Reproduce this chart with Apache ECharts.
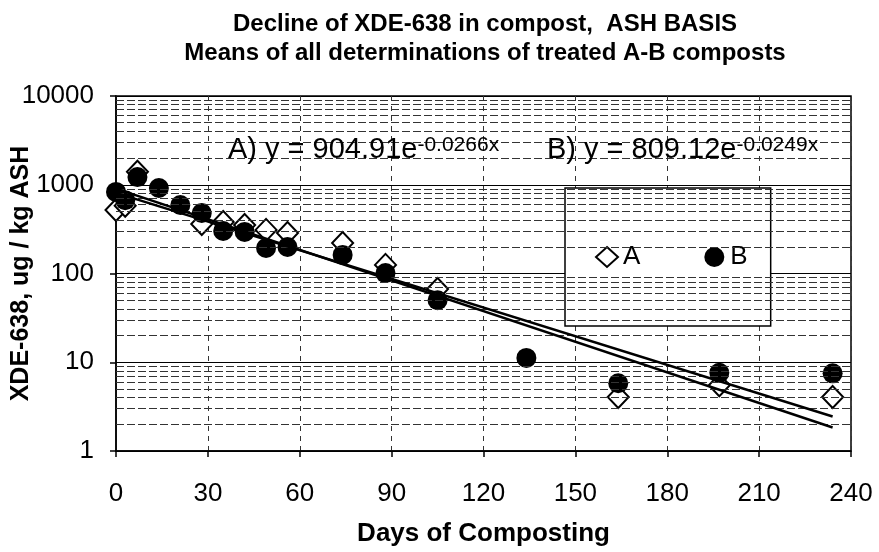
<!DOCTYPE html>
<html>
<head>
<meta charset="utf-8">
<script src="https://cdn.jsdelivr.net/npm/echarts@6/dist/echarts.min.js"></script>
<style>html,body{margin:0;padding:0;background:#fff}#c{width:879px;height:552px}</style>
</head>
<body>
<div id="c"></div>
<script>
// Data (null = not visible in the reference)
const days  = [0, 3, 7, 14, 21, 28, 35, 42, 49, 56, 74, 88, 105, 134, 164, 197, 234];
const seriesA = [520, 580, 1400, null, null, 361, 380, 352, 310, 286, 221, 125, 67, null, 4.06, 5.5, 4.06];
const seriesB = [830, 670, 1220, 918, 591, 480, 301, 294, 194, 199, 162, 101, 50, 11.2, 5.8, 7.6, 7.5];
const trendDays = [0, 234];
const trendA = [904.91, 1.84];
const trendB = [809.12, 2.45];
const xTicks = [0, 30, 60, 90, 120, 150, 180, 210, 240];
const yTicks = [1, 10, 100, 1000, 10000];
const titleLines = ['Decline of XDE-638 in compost,  ASH BASIS', 'Means of all determinations of treated A-B composts'];
const eqA = ['A) y = 904.91e', '-0.0266x'];
const eqB = ['B) y = 809.12e', '-0.0249x'];

const FONT = 'Liberation Sans, Arial, sans-serif';
const pairs = (xs, ys) => xs.map((x, i) => [x, ys[i]]).filter(p => p[1] != null);

// minor grid positions (2..9 within each decade)
const minorVals = [];
for (let k = 0; k < 4; k++) for (let m = 2; m <= 9; m++) minorVals.push(m * Math.pow(10, k));

const eqRich = {
  m: {fontFamily: FONT, fontSize: 29, fill: '#000', verticalAlign: 'bottom'},
  s: {fontFamily: FONT, fontSize: 21, fill: '#000', verticalAlign: 'top'}
};

const chart = echarts.init(document.getElementById('c'), null, {renderer: 'canvas'});
chart.setOption({
  animation: false,
  backgroundColor: '#fff',
  textStyle: {fontFamily: FONT},
  title: {
    text: titleLines.join('\n'),
    left: 480, top: 5, textAlign: 'center',
    textStyle: {fontFamily: FONT, fontSize: 24, fontWeight: 'bold', color: '#000', lineHeight: 29}
  },
  grid: {left: 116, right: 28, top: 96, bottom: 101, show: true, borderColor: '#000', borderWidth: 1.5,
         backgroundColor: 'transparent', containLabel: false, outerBoundsMode: 'none'},
  legend: {
    data: [
      {name: 'A', icon: 'diamond', itemStyle: {color: '#fff', borderColor: '#000', borderWidth: 2}},
      {name: 'B', icon: 'circle', itemStyle: {color: '#000'}}
    ],
    left: 565, top: 188,
    orient: 'horizontal',
    padding: [56, 23, 56, 30],
    itemGap: 64, itemWidth: 22, itemHeight: 20,
    backgroundColor: '#fff', borderColor: '#000', borderWidth: 1.5,
    textStyle: {fontFamily: FONT, fontSize: 26, color: '#000'}
  },
  xAxis: {
    type: 'value', min: xTicks[0], max: xTicks[xTicks.length - 1], interval: 30,
    name: 'Days of Composting', nameLocation: 'middle', nameGap: 70, nameMoveOverlap: false,
    nameTextStyle: {fontFamily: FONT, fontSize: 26, fontWeight: 'bold', color: '#000'},
    axisLine: {lineStyle: {color: '#000', width: 1.5}},
    axisTick: {show: true, length: 6, lineStyle: {color: '#000', width: 1.5}},
    axisLabel: {fontFamily: FONT, fontSize: 26, color: '#000', margin: 30},
    splitLine: {show: true, lineStyle: {color: '#333', width: 1, type: [5, 5]}}
  },
  yAxis: {
    type: 'log', logBase: 10, min: yTicks[0], max: yTicks[yTicks.length - 1],
    name: 'XDE-638, ug / kg ASH', nameLocation: 'middle', nameGap: 82, nameRotate: 90, nameMoveOverlap: false,
    nameTextStyle: {fontFamily: FONT, fontSize: 25, fontWeight: 'bold', color: '#000'},
    axisLine: {show: true, lineStyle: {color: '#000', width: 1.5}},
    axisTick: {show: true, length: 6, lineStyle: {color: '#000', width: 1.5}},
    axisLabel: {fontFamily: FONT, fontSize: 26, color: '#000', margin: 22, formatter: v => String(v)},
    splitLine: {show: true, lineStyle: {color: '#000', width: 1.2}}
  },
  series: [
    {
      type: 'line', data: [], silent: true,
      markLine: {
        silent: true, symbol: 'none', label: {show: false},
        lineStyle: {color: '#333', width: 1, type: [8, 3]},
        data: minorVals.map(v => ({yAxis: v}))
      }
    },
    {
      name: 'A', type: 'scatter', data: pairs(days, seriesA), symbol: 'diamond', symbolSize: [21, 22],
      itemStyle: {color: '#fff', borderColor: '#000', borderWidth: 2, opacity: 1}, z: 3
    },
    {
      name: 'B', type: 'scatter', data: pairs(days, seriesB), symbol: 'circle', symbolSize: 20,
      itemStyle: {color: '#000', opacity: 1}, z: 4
    },
    {
      name: 'trendA', type: 'line', data: pairs(trendDays, trendA), symbol: 'none',
      lineStyle: {color: '#000', width: 2.5}, z: 5, silent: true
    },
    {
      name: 'trendB', type: 'line', data: pairs(trendDays, trendB), symbol: 'none',
      lineStyle: {color: '#000', width: 2.5}, z: 5, silent: true
    }
  ],
  graphic: [
    {
      type: 'text', left: 228, top: 135, z: 10,
      style: {text: '{m|' + eqA[0] + '}{s|' + eqA[1] + '}', rich: eqRich}
    },
    {
      type: 'text', left: 547, top: 135, z: 10,
      style: {text: '{m|' + eqB[0] + '}{s|' + eqB[1] + '}', rich: eqRich}
    }
  ]
});
</script>
</body>
</html>
